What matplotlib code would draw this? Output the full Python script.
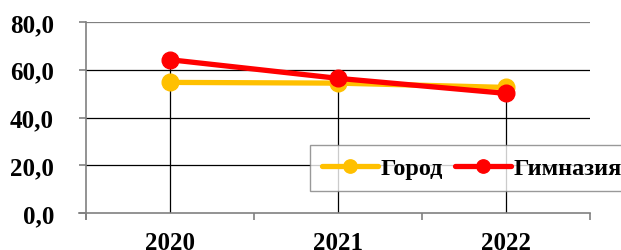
import matplotlib
matplotlib.use("Agg")
import matplotlib.pyplot as plt
from matplotlib.ticker import FuncFormatter, FixedLocator

years = ["2020", "2021", "2022"]
gorod = [54.7, 54.4, 52.6]
gimnaziya = [64.2, 56.4, 50.1]
series_names = ["Город", "Гимназия"]
y_ticks = [0, 20, 40, 60, 80]

plt.rcParams['font.family'] = ['Liberation Serif', 'DejaVu Serif']
plt.rcParams['font.weight'] = 'bold'

fig = plt.figure(figsize=(6.21, 2.51), dpi=100)
ax = fig.add_axes([86/621, 1-214/251, 504/621, 191/251])

x = list(range(len(years)))
ax.set_xlim(-0.5, len(years) - 0.5)
ax.set_ylim(0, 80)

for yt in y_ticks[1:]:
    ax.axhline(yt, color='black' if yt < 80 else '#808080', lw=0.9, zorder=1)

# drop lines
for xi, a, b in zip(x, gorod, gimnaziya):
    ax.vlines(xi, 0, max(a, b), color='black', lw=0.9, zorder=1)

ax.plot(x, gorod, color='#FFC000', lw=3.8, marker='o', ms=12, label=series_names[0], zorder=3, solid_capstyle='round')
ax.plot(x, gimnaziya, color='#FF0000', lw=3.8, marker='o', ms=12, label=series_names[1], zorder=4, solid_capstyle='round')

for s in ['top', 'right']:
    ax.spines[s].set_visible(False)
for s in ['left', 'bottom']:
    ax.spines[s].set_color('#808080')
    ax.spines[s].set_linewidth(1.2)
ax.spines['left'].set_bounds(-6 / 2.3875, 80)
ax.spines['bottom'].set_bounds(-0.5 - 7 / 168, 2.5)

ax.yaxis.set_major_locator(FixedLocator(y_ticks))
ax.yaxis.set_major_formatter(FuncFormatter(lambda v, p: f"{v:.1f}".replace('.', ',')))
ax.tick_params(axis='y', direction='out', length=5, width=1.2, color='#808080', pad=18, labelsize=18)

ax.set_xticks([-0.5, 0.5, 1.5, 2.5])
ax.set_xticklabels([])
ax.set_xticks(x, minor=True)
ax.set_xticklabels(years, minor=True)
ax.tick_params(axis='x', which='major', direction='out', length=5, width=1.2, color='#808080')
ax.tick_params(axis='x', which='minor', length=0, pad=13, labelsize=18)
for lab in ax.get_xticklabels(minor=True) + ax.get_yticklabels():
    lab.set_fontweight('bold')

leg = fig.legend(loc='upper left', bbox_to_anchor=(310/621, 1-146/251), ncol=2,
                 frameon=True, fancybox=False, prop={'weight': 'bold', 'size': 17.5},
                 handlelength=2.3, handletextpad=0.1, columnspacing=0.5,
                 borderpad=0.5, borderaxespad=0, markerscale=0.8)
leg.get_frame().set_edgecolor('#808080')
leg.get_frame().set_linewidth(1.0)

fig.savefig("out.png", dpi=100)
